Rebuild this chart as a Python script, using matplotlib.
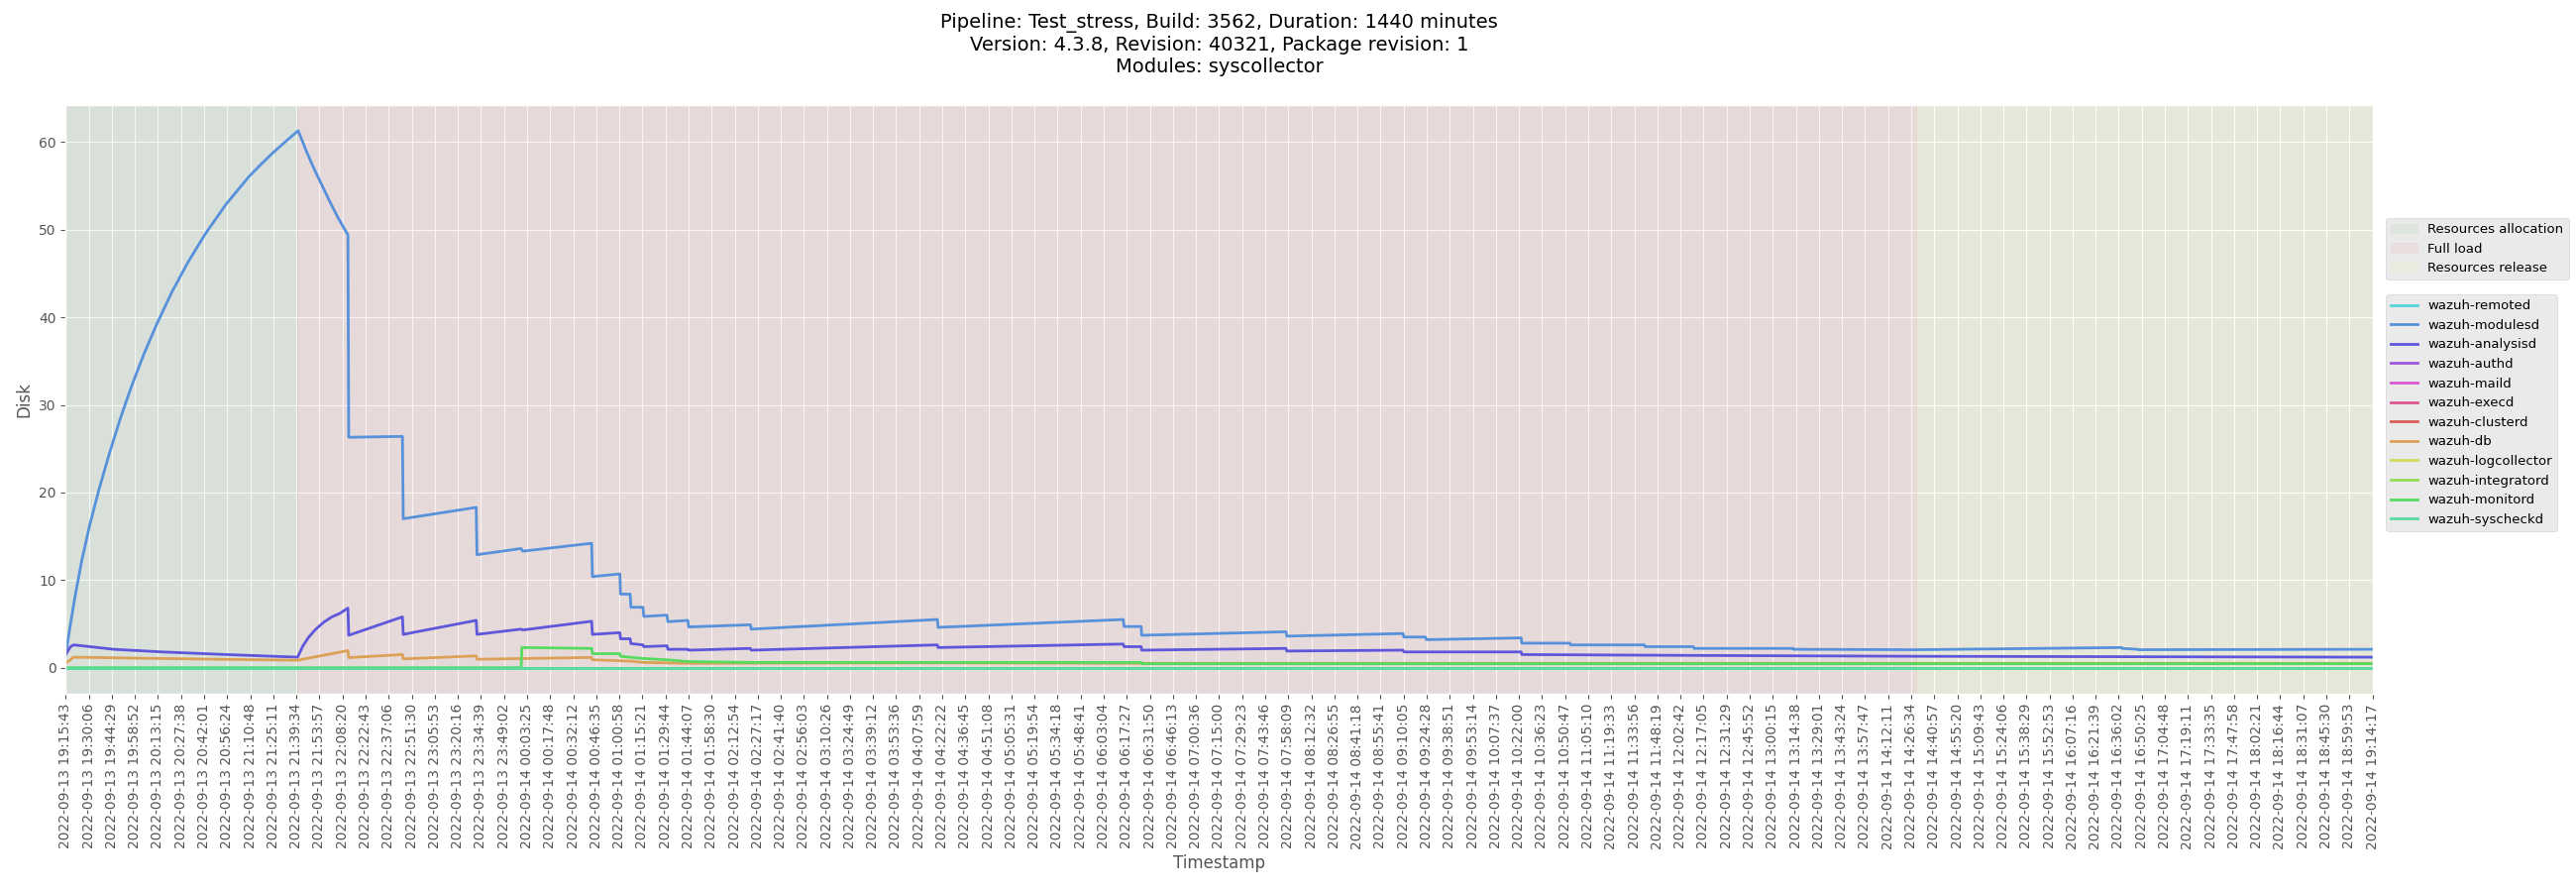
import matplotlib
matplotlib.use("Agg")
import matplotlib.pyplot as plt
import seaborn as sns
import numpy as np
import pandas as pd

plt.style.use("ggplot")

start = pd.Timestamp("2022-09-13 19:15:43")
end = pd.Timestamp("2022-09-14 19:14:17")

phase_names = ["Resources allocation", "Full load", "Resources release"]
phase_bounds_min = [0, 144.6, 1154, 1438.6]
phase_colors = ["green", "red", "yellow"]

series_names = ["wazuh-remoted", "wazuh-modulesd", "wazuh-analysisd", "wazuh-authd",
                "wazuh-maild", "wazuh-execd", "wazuh-clusterd", "wazuh-db",
                "wazuh-logcollector", "wazuh-integratord", "wazuh-monitord", "wazuh-syscheckd"]

# (minutes from start, value)
modulesd_t = [0, 3, 6, 10, 15, 21, 27, 34, 41, 49, 57, 66, 76, 87, 100, 114, 122, 130, 138, 145,
              150, 155, 160, 165, 170, 176,
              176.5, 210, 210.5, 256, 256.5, 284, 285, 328, 328.5, 345.6, 346, 352, 352.5, 360, 360.5,
              375, 375.5, 388, 388.5, 427, 427.5, 543.6, 544, 659.5, 660, 670.7, 671, 761, 761.5,
              834, 834.5, 848, 848.5, 907.7, 908, 938, 938.5, 984.6, 985, 1015, 1015.5, 1077, 1077.5,
              1154, 1282, 1282.5, 1292, 1292.5, 1438.6]
modulesd_v = [1.5, 5.0, 8.3, 12.2, 16.3, 20.5, 24.3, 28.4, 32.1, 35.9, 39.3, 42.8, 46.2, 49.5, 52.9,
              56.0, 57.5, 58.9, 60.2, 61.3,
              59.0, 56.9, 55.0, 53.1, 51.3, 49.4,
              26.3, 26.4, 17.0, 18.3, 12.9, 13.6, 13.3, 14.2, 10.4, 10.7, 8.4, 8.4, 6.9, 6.9, 5.85,
              6.0, 5.25, 5.4, 4.65, 4.9, 4.4, 5.5, 4.6, 5.5, 4.7, 4.7, 3.7, 4.1, 3.6,
              3.9, 3.5, 3.5, 3.2, 3.4, 2.8, 2.8, 2.6, 2.6, 2.4, 2.4, 2.2, 2.2, 2.1,
              2.05, 2.3, 2.2, 2.1, 2.05, 2.1]

analysisd_t = [0, 3, 5, 30, 60, 100, 144.6, 148, 151.6, 156, 161, 166, 171, 176, 176.5, 210, 210.5,
               256, 256.5, 284, 285, 328, 328.5, 345.6, 346, 352, 352.5, 360, 360.5, 375, 375.5,
               388, 388.5, 427, 427.5, 543.6, 544, 659.5, 660, 670.7, 671, 761, 761.5, 834, 834.5,
               907.7, 908, 1015, 1154, 1438.6]
analysisd_v = [1.5, 2.4, 2.6, 2.1, 1.8, 1.5, 1.2, 2.5, 3.5, 4.4, 5.2, 5.8, 6.2, 6.8, 3.7, 5.8, 3.8,
               5.4, 3.8, 4.4, 4.3, 5.3, 3.8, 4.0, 3.3, 3.3, 2.75, 2.6, 2.4, 2.5, 2.1,
               2.1, 2.0, 2.2, 2.0, 2.6, 2.3, 2.7, 2.4, 2.4, 2.0, 2.2, 1.9, 2.0, 1.8,
               1.8, 1.5, 1.4, 1.3, 1.2]

db_t = [0, 5, 40, 100, 144.6, 176, 176.5, 210, 210.5, 256, 256.5, 328, 328.5, 352, 352.5, 360,
        375, 388, 543.6, 660, 1154, 1438.6]
db_v = [0.5, 1.2, 1.1, 0.95, 0.85, 1.95, 1.15, 1.5, 1.0, 1.35, 0.96, 1.17, 0.9, 0.75, 0.75, 0.6,
        0.55, 0.5, 0.55, 0.5, 0.5, 0.5]

monitord_t = [0, 284, 284.5, 328, 328.5, 345.6, 346, 360, 375, 388, 427, 670.7, 671, 1438.6]
monitord_v = [0, 0, 2.3, 2.2, 1.6, 1.6, 1.3, 1.05, 0.9, 0.7, 0.6, 0.6, 0.45, 0.45]

zero_t = [0, 1438.6]
zero_v = [0, 0]

n_ticks = 101

def to_time(mins):
    return start + pd.to_timedelta(np.asarray(mins, dtype=float), unit="m")

data = {name: (zero_t, zero_v) for name in series_names}
data["wazuh-modulesd"] = (modulesd_t, modulesd_v)
data["wazuh-analysisd"] = (analysisd_t, analysisd_v)
data["wazuh-db"] = (db_t, db_v)
data["wazuh-monitord"] = (monitord_t, monitord_v)

pal = sns.color_palette("hls", 12)
colors = pal[6:] + pal[:6]

fig, ax = plt.subplots(figsize=(26, 9), dpi=100)
fig.subplots_adjust(left=0.0255, right=0.921, top=0.882, bottom=0.222)

span_handles = []
for i, name in enumerate(phase_names):
    h = ax.axvspan(to_time([phase_bounds_min[i]])[0], to_time([phase_bounds_min[i + 1]])[0],
                   color=phase_colors[i], alpha=0.05, label=name)
    span_handles.append(h)

line_handles = []
for name, c in zip(series_names, colors):
    t, v = data[name]
    h, = ax.plot(to_time(t), v, color=c, lw=2, label=name)
    line_handles.append(h)

ax.set_xlim(start, end)
ax.set_ylim(-3.0, 64.2)
ticks = pd.date_range(start, end, periods=n_ticks)
ax.set_xticks(ticks)
ax.set_xticklabels([t.strftime("%Y-%m-%d %H:%M:%S") for t in ticks], rotation=90, fontsize=10)
ax.tick_params(axis="y", labelsize=10)
ax.set_xlabel("Timestamp", fontsize=12)
ax.set_ylabel("Disk", fontsize=12)
ax.set_title("Pipeline: Test_stress, Build: 3562, Duration: 1440 minutes\n"
             "Version: 4.3.8, Revision: 40321, Package revision: 1\nModules: syscollector",
             fontsize=14, color="black", pad=24)

leg1 = ax.legend(handles=span_handles, loc="upper left", bbox_to_anchor=(1.003, 0.82), fontsize=9.5)
ax.add_artist(leg1)
ax.legend(handles=line_handles, loc="upper left", bbox_to_anchor=(1.003, 0.69), fontsize=9.5)

fig.savefig("out.png")
